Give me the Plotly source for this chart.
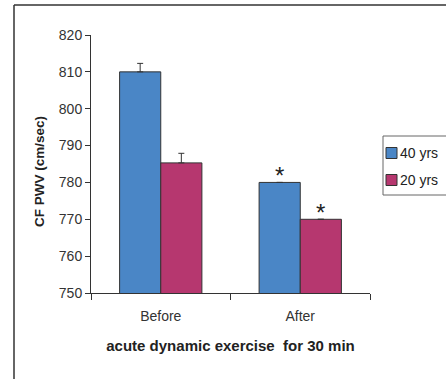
import plotly.graph_objects as go

categories = ["Before", "After"]
series_names = ["40 yrs", "20 yrs"]
values_40 = [810, 780]
values_20 = [785.3, 770]
err_40 = [2.3, None]
err_20 = [2.6, None]
marks_40 = ["", "*"]
marks_20 = ["", "*"]
colors = ["#4a86c6", "#b6376f"]
y_title = "CF PWV (cm/sec)"
x_title = "acute dynamic exercise  for 30 min"

# plot-area pixel geometry helpers (plot area: x 91..370, y 35..293)
def px(X):
    return (X - 91) / 279

def py(Y):
    return (293 - Y) / 258

BARGAP = 0.41
bar_px = 279 / len(categories) * (1 - BARGAP) / 2

fig = go.Figure()
annotations = []
for i, (name, vals, errs, marks, col) in enumerate([
    (series_names[0], values_40, err_40, marks_40, colors[0]),
    (series_names[1], values_20, err_20, marks_20, colors[1]),
]):
    fig.add_trace(go.Bar(
        x=categories, y=vals, name=name, showlegend=False,
        marker=dict(color=col, line=dict(color="#333333", width=1)),
        error_y=dict(type="data", array=errs, arrayminus=[0]*len(errs), symmetric=False,
                     color="#333333", thickness=1, width=3),
    ))
    shift = (i - 0.5) * bar_px
    for c, v, m in zip(categories, vals, marks):
        if m:
            annotations.append(dict(x=c, y=v, xref="x", yref="y", text=m,
                                    showarrow=False, xshift=shift, yanchor="bottom",
                                    yshift=-9,
                                    font=dict(size=24, color="#222222")))

shapes = [
    dict(type="line", xref="paper", yref="paper",
         x0=px(14), x1=px(14), y0=py(5), y1=py(379),
         line=dict(color="#333333", width=1.5)),
    dict(type="line", xref="paper", yref="paper",
         x0=px(14), x1=px(446), y0=py(5), y1=py(5),
         line=dict(color="#333333", width=1.5)),
    # legend box
    dict(type="rect", xref="paper", yref="paper",
         x0=px(383), x1=px(452), y0=py(136), y1=py(195),
         line=dict(color="#666666", width=1), fillcolor="white"),
]
legend_rows = [153, 180]
for name, col, yc in zip(series_names, colors, legend_rows):
    shapes.append(dict(type="rect", xref="paper", yref="paper",
                       x0=px(386), x1=px(397), y0=py(yc - 5.5), y1=py(yc + 5.5),
                       line=dict(color="#333333", width=1), fillcolor=col))
    annotations.append(dict(xref="paper", yref="paper", x=px(398), y=py(yc),
                            xanchor="left", yanchor="middle", showarrow=False,
                            text=name, font=dict(size=14, color="#222222")))

# y axis title placed as rotated annotation
annotations.append(dict(xref="paper", yref="paper", x=px(39), y=py(172),
                        xanchor="center", yanchor="middle", showarrow=False,
                        textangle=-90, text="<b>" + y_title + "</b>",
                        font=dict(size=13.5, color="#222222")))

fig.update_layout(
    width=446, height=379,
    margin=dict(l=91, r=76, t=35, b=86, autoexpand=False),
    barmode="group", bargap=BARGAP, bargroupgap=0,
    plot_bgcolor="white", paper_bgcolor="white",
    font=dict(family="Liberation Sans, Arial", size=14, color="#333333"),
    showlegend=False,
    xaxis=dict(
        showline=True, linecolor="#333333", linewidth=1,
        ticks="outside", tickson="boundaries", ticklen=6, tickcolor="#333333",
        tickfont=dict(size=14, color="#333333"), ticklabelstandoff=10,
        title=dict(text="<b>" + x_title + "</b>",
                   font=dict(size=15, color="#222222"), standoff=17),
    ),
    yaxis=dict(
        range=[750, 820], dtick=10, showgrid=False,
        showline=True, linecolor="#333333", linewidth=1,
        ticks="outside", ticklen=5, tickcolor="#333333",
        tickfont=dict(size=14, color="#333333"),
    ),
    shapes=shapes,
    annotations=annotations,
)

fig.write_html("out.html")
